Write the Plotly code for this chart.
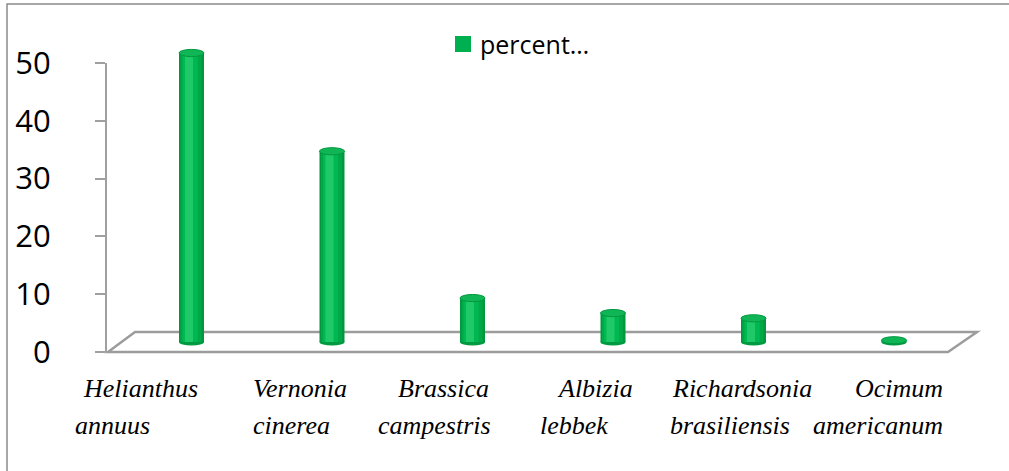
import plotly.graph_objects as go

# ---------------- data ----------------
categories = ["Helianthus annuus", "Vernonia cinerea", "Brassica campestris",
              "Albizia lebbek", "Richardsonia brasiliensis", "Ocimum americanum"]
percent = [50, 33, 7.6, 5, 4.1, 0.3]
y_ticks = [0, 10, 20, 30, 40, 50]
series_name = "percent…"

# ---------------- geometry helpers (pixels -> paper) ----------------
W, H = 1009, 471
def fx(p): return p / W
def fy(p): return 1 - p / H

AX_X = 107            # front y-axis line
Y0_F, Y50_F = 352, 63 # front plane 0 and 50
PXU = (Y0_F - Y50_F) / 50.0
DX, DY = 14, 10       # depth shift to bar plane (mid depth)
Y0_M = Y0_F - DY
SLOT_L, SLOT_R = 121.25, 964.25
UNIT = (SLOT_R - SLOT_L) / len(categories)
YR2 = [-2, 56]

fig = go.Figure()

# dummy trace for front-plane axes
fig.add_trace(go.Scatter(x=[None], y=[None], xaxis="x", yaxis="y",
                         showlegend=False, hoverinfo="skip"))

xs = list(range(len(categories)))
layers = [(25, 0.0, "#00973F"), (21, -0.5, "#00A847"), (15, -1.5, "#00B852"), (8, -2.5, "#20C968")]
for w, sh, col in layers:
    wu = w / UNIT
    fig.add_trace(go.Bar(x=xs, y=percent, xaxis="x2", yaxis="y2",
                         width=[wu] * len(xs), offset=[-wu / 2 + sh / UNIT] * len(xs),
                         marker=dict(color=col, line=dict(width=0)),
                         showlegend=False, hoverinfo="skip", name=series_name))

shapes = []
# floor parallelogram
fl = [(108, 352), (948, 352), (977, 332), (135, 332)]
path = "M " + " L ".join(f"{fx(a):.5f},{fy(b):.5f}" for a, b in fl) + " Z"
shapes.append(dict(type="path", xref="paper", yref="paper", path=path,
                   line=dict(color="#9C9C9C", width=2.5), layer="below"))
# outer border (top and left edges visible only)
shapes.append(dict(type="path", xref="paper", yref="paper",
                   path=f"M {fx(7):.5f},{fy(500):.5f} L {fx(7):.5f},{fy(4):.5f} L {fx(1040):.5f},{fy(4):.5f}",
                   line=dict(color="#8A8A8A", width=1.5), layer="below"))

ew = 12.5 / UNIT
eh = 3.6 / PXU
for i, v in zip(xs, percent):
    # bottom ellipse
    shapes.append(dict(type="circle", xref="x2", yref="y2",
                       x0=i - ew, x1=i + ew, y0=-eh, y1=eh,
                       fillcolor="#009A40", line=dict(width=0), layer="below"))
    # top ellipse
    shapes.append(dict(type="circle", xref="x2", yref="y2",
                       x0=i - ew, x1=i + ew, y0=v - eh, y1=v + eh,
                       fillcolor="#10B655", line=dict(color="#00983F", width=1)))

# legend square
shapes.append(dict(type="rect", xref="paper", yref="paper",
                   x0=fx(455), x1=fx(471), y0=fy(52), y1=fy(36),
                   fillcolor="#00B050", line=dict(width=0)))

annotations = [dict(text=series_name, xref="paper", yref="paper", x=fx(478), y=fy(44),
                    xanchor="left", yanchor="middle", showarrow=False,
                    font=dict(family="Open Sans", size=25, color="#000000"))]

# category labels (two lines each)
line_shift = [(-108.5, -116.5), (-79.5, -79.5), (-75, -95), (-56, -73), (-81.5, -83.5), (-39, -81)]
for i, (name, (s1, s2)) in enumerate(zip(categories, line_shift)):
    w1, w2 = name.split(" ", 1)
    for txt, sh, yy in ((w1, s1, 388), (w2, s2, 425)):
        annotations.append(dict(text=txt, xref="x2", yref="paper", x=i, y=fy(yy),
                                xanchor="left", yanchor="middle", xshift=sh - 2,
                                showarrow=False,
                                font=dict(family="Liberation Serif", size=26,
                                          color="#000000", style="italic")))

fig.update_layout(
    template="none",
    width=W, height=H, autosize=False,
    margin=dict(l=0, r=0, t=0, b=0, pad=0, autoexpand=False),
    paper_bgcolor="white", plot_bgcolor="rgba(0,0,0,0)",
    barmode="overlay", showlegend=False,
    xaxis=dict(domain=[fx(AX_X), fx(948)], range=[0, 1], visible=False, automargin=False),
    yaxis=dict(domain=[fy(Y0_F), fy(Y50_F)], range=[0, 50], anchor="x",
               tickvals=y_ticks, showgrid=False, zeroline=False, automargin=False,
               showline=True, linecolor="#A0A0A0", linewidth=2,
               ticks="outside", ticklen=10, tickcolor="#A0A0A0", tickwidth=2,
               ticklabelstandoff=38,
               tickfont=dict(family="Open Sans", size=31, color="#000000")),
    xaxis2=dict(domain=[fx(SLOT_L), fx(SLOT_R)], range=[-0.5, len(categories) - 0.5],
                visible=False, anchor="y2", automargin=False),
    yaxis2=dict(domain=[fy(Y0_M - YR2[0] * PXU), fy(Y0_M - YR2[1] * PXU)], range=YR2,
                visible=False, anchor="x2", automargin=False),
    shapes=shapes, annotations=annotations,
)

fig.write_html("out.html")
